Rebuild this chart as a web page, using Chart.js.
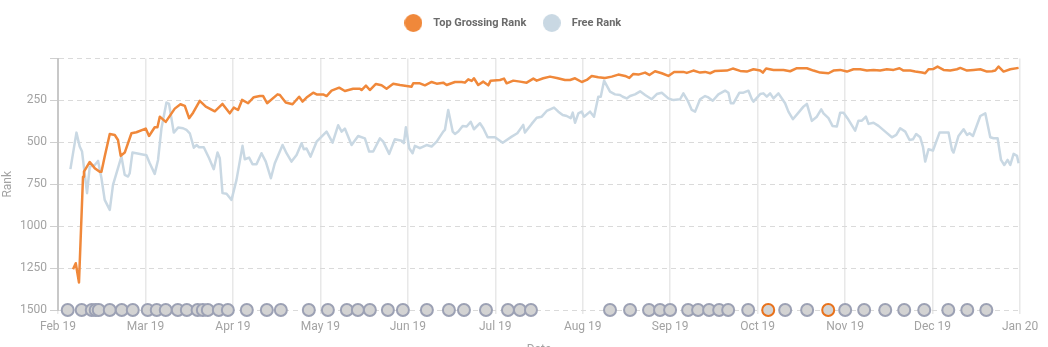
<!DOCTYPE html>
<html>
<head>
<meta charset="utf-8">
<title>Rank history</title>
<script src="https://cdn.jsdelivr.net/npm/chart.js@4/dist/chart.umd.min.js"></script>
<style>
  html,body{margin:0;padding:0;background:#fff;overflow:hidden}
  .wrap{position:relative;width:1048px;height:357px}
</style>
</head>
<body>
<div class="wrap"><canvas id="rankChart"></canvas></div>
<script>
// x axis is in months, evenly spaced: 0 = Feb 19 ... 11 = Jan 20
const MONTHS = ['Feb 19','Mar 19','Apr 19','May 19','Jun 19','Jul 19','Aug 19','Sep 19','Oct 19','Nov 19','Dec 19','Jan 20'];

// Top grossing rank
const grossingAt = [0.172,0.203,0.240,0.286,0.297,0.363,0.420,0.477,0.497,0.534,
  0.592,0.649,0.686,0.717,0.763,0.840,0.897,1.003,1.041,1.106,
  1.137,1.164,1.232,1.335,1.400,1.450,1.499,1.545,1.621,1.690,
  1.793,1.881,1.964,2.010,2.059,2.105,2.174,2.239,2.308,2.346,
  2.391,2.510,2.537,2.604,2.682,2.757,2.796,2.842,2.918,2.957,
  3.032,3.071,3.128,3.215,3.280,3.375,3.452,3.471,3.521,3.566,
  3.635,3.700,3.757,3.833,3.910,4.043,4.062,4.138,4.196,4.272,
  4.330,4.405,4.444,4.539,4.616,4.653,4.691,4.730,4.756,4.805,
  4.863,4.920,4.947,5.054,5.100,5.130,5.206,5.283,5.359,5.435,
  5.474,5.549,5.626,5.703,5.797,5.855,5.912,5.989,6.046,6.103,
  6.178,6.255,6.332,6.407,6.484,6.533,6.579,6.636,6.713,6.762,
  6.827,6.904,6.979,7.045,7.151,7.190,7.265,7.342,7.399,7.457,
  7.514,7.648,7.716,7.800,7.876,7.952,8.029,8.059,8.097,8.181,
  8.295,8.372,8.449,8.563,8.638,8.715,8.810,8.867,8.944,9.021,
  9.096,9.173,9.249,9.325,9.401,9.478,9.554,9.622,9.668,9.745,
  9.802,9.879,9.916,9.954,10.011,10.057,10.126,10.202,10.279,10.317,
  10.394,10.469,10.546,10.622,10.680,10.717,10.755,10.812,10.889,10.984];
const grossingRank = [1257,1221,1336,705,675,617,654,676,675,585,
  450,456,486,581,561,446,440,418,462,410,
  410,347,378,299,273,283,356,323,253,287,
  315,271,327,293,307,247,267,231,224,224,
  267,214,218,262,273,228,257,233,204,214,
  214,224,192,174,194,180,180,188,162,188,
  152,160,180,150,158,168,148,148,160,140,
  150,144,158,140,140,144,124,134,118,158,
  138,160,132,128,120,148,132,138,144,120,
  132,118,108,116,128,128,118,140,128,104,
  112,116,108,96,104,116,92,96,84,98,
  76,88,104,80,80,86,72,84,80,88,
  74,72,60,74,78,64,72,84,60,68,
  68,76,58,58,72,84,88,72,68,78,
  64,64,72,68,72,64,68,58,72,72,
  78,84,88,64,62,48,68,72,64,56,
  72,68,64,78,76,72,48,78,64,56];

// Free rank
const freeAt = [0.142,0.211,0.248,0.275,0.332,0.363,0.420,0.458,0.497,0.534,
  0.592,0.629,0.725,0.763,0.801,0.820,0.851,1.011,1.049,1.106,
  1.144,1.183,1.240,1.270,1.324,1.373,1.430,1.469,1.507,1.553,
  1.584,1.613,1.667,1.728,1.781,1.824,1.850,1.881,1.927,1.984,
  2.041,2.110,2.136,2.185,2.224,2.270,2.327,2.376,2.434,2.479,
  2.568,2.613,2.670,2.728,2.785,2.811,2.842,2.888,2.957,3.071,
  3.140,3.204,3.243,3.280,3.357,3.432,3.509,3.558,3.604,3.681,
  3.719,3.787,3.852,3.929,3.955,3.978,4.016,4.055,4.081,4.138,
  4.215,4.272,4.330,4.405,4.424,4.462,4.513,4.539,4.577,4.627,
  4.673,4.719,4.756,4.825,4.863,4.913,4.997,5.085,5.188,5.252,
  5.320,5.339,5.416,5.474,5.531,5.588,5.672,5.721,5.771,5.817,
  5.863,5.886,5.912,5.950,5.989,6.015,6.084,6.129,6.178,6.206,
  6.244,6.312,6.369,6.427,6.458,6.503,6.541,6.598,6.656,6.713,
  6.789,6.847,6.904,6.979,7.037,7.113,7.151,7.197,7.247,7.285,
  7.342,7.399,7.437,7.487,7.551,7.628,7.666,7.693,7.723,7.792,
  7.838,7.895,7.934,7.952,8.029,8.066,8.105,8.143,8.181,8.238,
  8.314,8.352,8.403,8.467,8.524,8.563,8.620,8.677,8.727,8.753,
  8.810,8.856,8.906,8.944,8.982,9.027,9.115,9.153,9.192,9.238,
  9.268,9.325,9.382,9.459,9.535,9.585,9.630,9.688,9.737,9.776,
  9.813,9.859,9.890,9.916,9.954,10.005,10.080,10.183,10.222,10.240,
  10.297,10.355,10.394,10.423,10.462,10.546,10.603,10.660,10.698,10.744,
  10.783,10.820,10.858,10.889,10.927,10.966,10.984];
const freeRank = [660,442,525,555,803,645,635,611,714,843,
  903,754,585,694,704,684,561,577,625,688,
  605,416,263,271,442,412,416,426,446,532,
  516,529,529,595,660,561,595,803,807,843,
  724,521,601,591,630,630,565,615,714,625,
  516,565,615,575,505,541,537,585,496,436,
  502,398,436,418,516,462,476,555,555,476,
  496,569,482,490,505,410,535,565,521,535,
  516,525,496,436,426,307,436,450,436,402,
  406,377,422,386,416,470,470,502,466,446,
  396,442,390,353,347,313,293,317,337,343,
  356,323,383,327,317,347,317,347,228,228,
  132,198,214,218,228,238,224,214,196,218,
  243,212,204,238,248,243,208,248,307,317,
  243,224,232,252,214,192,204,267,267,204,
  204,192,243,257,212,208,228,208,238,208,
  267,317,362,323,287,271,372,347,303,327,
  356,402,406,323,323,356,430,371,371,347,
  390,383,402,436,470,456,416,436,486,482,
  450,470,525,615,541,549,442,442,545,561,
  462,422,456,446,462,343,327,470,476,476,
  605,635,605,635,569,581,625];

// update markers along the bottom row
const eventAt = [0.111,0.271,0.386,0.431,0.466,0.592,0.729,0.855,1.026,1.129,
  1.232,1.370,1.473,1.596,1.656,1.713,1.839,1.942,2.159,2.388,
  2.548,2.868,3.086,3.303,3.429,3.566,3.772,3.944,4.218,4.470,
  4.642,4.894,5.145,5.282,5.408,6.312,6.541,6.758,6.884,6.999,
  7.205,7.319,7.445,7.560,7.663,7.892,8.121,8.315,8.566,8.807,
  9.001,9.218,9.459,9.676,9.905,10.180,10.397,10.615];
const flaggedAt = [8.121, 8.807];
const EVENT_ROW = 1500;

const ORANGE = '#F0883A', BLUE = '#C9D8E3';
const TXT = '#a3a3a3';
const FONT = "Roboto, 'Open Sans', sans-serif";

// round swatch used by the legend
function dot(color) {
  const c = document.createElement('canvas');
  c.width = c.height = 18;
  const g = c.getContext('2d');
  g.fillStyle = color;
  g.beginPath(); g.arc(9, 9, 9, 0, Math.PI * 2); g.fill();
  return c;
}

const pts = (xs, ys) => xs.map((x, i) => ({ x, y: ys[i] }));

// room between legend and plot
const legendGap = {
  id: 'legendGap',
  beforeInit(chart) {
    const fit = chart.legend.fit;
    chart.legend.fit = function () { fit.call(this); this.height = 52; };
  }
};

new Chart(document.getElementById('rankChart'), {
  type: 'line',
  data: {
    datasets: [
      { label: 'Top Grossing Rank', data: pts(grossingAt, grossingRank), borderColor: ORANGE,
        borderWidth: 2.5, pointRadius: 0, pointStyle: dot(ORANGE), tension: 0, borderJoinStyle: 'round' },
      { label: 'Free Rank', data: pts(freeAt, freeRank), borderColor: BLUE,
        borderWidth: 2.5, pointRadius: 0, pointStyle: dot(BLUE), tension: 0, borderJoinStyle: 'round' },
      { label: 'Updates', data: eventAt.map(x => ({ x, y: EVENT_ROW })), showLine: false, clip: false,
        pointRadius: 6, pointHoverRadius: 6, pointBorderWidth: 2, pointBackgroundColor: '#d3d3d3',
        pointBorderColor: eventAt.map(x => flaggedAt.includes(x) ? '#E8721C' : '#9ca1b4') },
    ]
  },
  options: {
    responsive: true, maintainAspectRatio: false, animation: false,
    layout: { padding: { top: 6.5, right: 28, left: 0, bottom: 0 } },
    plugins: {
      legend: {
        position: 'top',
        labels: {
          usePointStyle: true, pointStyleWidth: 29, padding: 11, color: '#6b6b6b',
          font: { family: FONT, size: 11, weight: 'bold' },
          filter: item => item.datasetIndex < 2,
        }
      },
      tooltip: { enabled: false },
    },
    scales: {
      x: {
        type: 'linear', min: 0, max: 11,
        afterFit: s => { s.height = 47; },
        grid: { color: '#e8e8e8', lineWidth: 1.5, tickLength: 4 },
        border: { display: false },
        ticks: { stepSize: 1, autoSkip: false, maxRotation: 0, padding: 6, color: TXT,
          font: { family: FONT, size: 12 }, callback: v => MONTHS[v] },
        title: { display: true, text: 'Date', color: TXT, font: { family: FONT, size: 12 }, padding: { top: 4, bottom: 0 } },
      },
      y: {
        reverse: true, min: 0, max: 1500,
        afterFit: s => { s.width = 58; },
        grid: { color: '#dadada', tickLength: 8, tickColor: '#cfcfcf' },
        border: { display: true, color: '#c8c8c8', width: 2, dash: [5, 4] },
        ticks: { stepSize: 250, padding: 3, color: TXT, font: { family: FONT, size: 12 },
          callback: v => v === 0 ? '' : v },
        title: { display: true, text: 'Rank', color: TXT, font: { family: FONT, size: 12 }, padding: { top: 1, bottom: 0 } },
      }
    }
  },
  plugins: [legendGap]
});
</script>
</body>
</html>
